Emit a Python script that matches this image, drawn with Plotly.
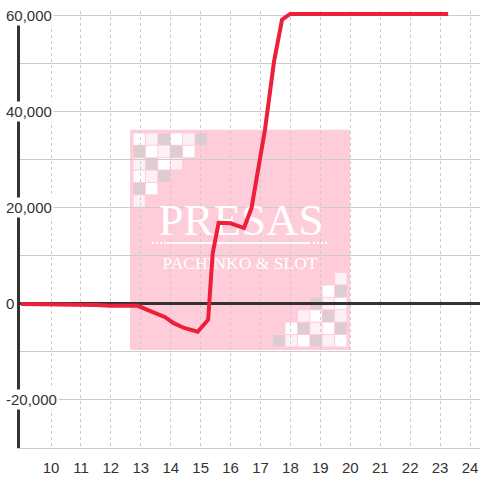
import plotly.graph_objects as go

# hour of day vs. cumulative balance
hours = [9, 11, 11.5, 12, 12.9, 13.4, 13.8, 14.1, 14.45, 14.9, 15.25, 15.4, 15.6,
         16.0, 16.45, 16.7, 17.0, 17.15, 17.45, 17.72, 17.99, 23.27]
balance = [0, 0, -200, -400, -400, -1700, -2700, -4000, -5000, -5800, -3300, 10400, 16900,
           16800, 15800, 20000, 31500, 36300, 50400, 59200, 60400, 60400]

x_ticks = list(range(10, 25))
y_ticks = [60000, 40000, 20000, 0, -20000]
y_tick_text = ["60,000", "40,000", "20,000", "0", "-20,000"]

X_RANGE = [8.964, 24.334]
Y_RANGE = [-30000, 61000]
L, T, W, H = 20, 11.2, 460, 436.8


def xp(px):
    return (px - L) / W


def yp(py):
    return (T + H - py) / H


def xd(px):
    return X_RANGE[0] + (px - L) / W * (X_RANGE[1] - X_RANGE[0])


def yd(py):
    return Y_RANGE[1] - (py - T) / H * (Y_RANGE[1] - Y_RANGE[0])


fig = go.Figure()

# watermark text (drawn before the line so the line sits on top)
fig.add_trace(go.Scatter(
    x=[xd(241), xd(240)], y=[yd(224), yd(265)], mode="text",
    text=["PRESAS", "PACHINKO &amp; SLOT"],
    textfont=dict(family="Liberation Serif", size=[45, 17.5], color="white"),
    hoverinfo="skip", showlegend=False))

fig.add_trace(go.Scatter(
    x=hours, y=balance, mode="lines",
    line=dict(color="#EE1F3A", width=4),
    cliponaxis=False, showlegend=False))

shapes = [dict(type="rect", xref="paper", yref="paper", layer="below",
               x0=xp(130), x1=xp(350), y0=yp(350), y1=yp(130),
               fillcolor="#FFCCDA", line=dict(width=0))]

pattern = ["WLGWLG", "GWLGW", "LGWL", "WLG", "GW", "L"]
cols = {"W": "#FFFFFF", "L": "#FDF0F8", "G": "#DDCCD0"}
s = 12.4
for r, row in enumerate(pattern):
    for c, ch in enumerate(row):
        for (x0, y0) in [(133 + s * c, 133 + s * r), (347 - s * (c + 1), 347 - s * (r + 1))]:
            shapes.append(dict(type="rect", xref="paper", yref="paper", layer="below",
                               x0=xp(x0 + 0.5), x1=xp(x0 + s - 0.5),
                               y0=yp(y0 + s - 0.5), y1=yp(y0 + 0.5),
                               fillcolor=cols[ch], line=dict(width=0)))

# decorative rule under the logo
shapes.append(dict(type="line", xref="paper", yref="paper", layer="below",
                   x0=xp(167), x1=xp(310), y0=yp(243), y1=yp(243),
                   line=dict(color="white", width=2)))
for dx in [152, 156, 160, 164, 313, 317, 321, 325]:
    shapes.append(dict(type="circle", xref="paper", yref="paper", layer="below",
                       x0=xp(dx), x1=xp(dx + 2.4), y0=yp(244.2), y1=yp(241.8),
                       fillcolor="white", line=dict(width=0)))

# hide the dashed gridlines above the top gridline (kept under the line trace)
shapes.append(dict(type="rect", xref="paper", yref="paper", layer="between",
                   x0=xp(22), x1=1, y0=yp(15.0), y1=1,
                   fillcolor="white", line=dict(width=0)))

annotations = [dict(x=xp(4), y=v, xref="paper", yref="y", text=t, showarrow=False,
                    xanchor="left", yanchor="middle", bgcolor="white",
                    font=dict(family="Liberation Sans", size=15, color="#333"))
               for v, t in zip(y_ticks, y_tick_text)]

fig.update_layout(
    width=480, height=480,
    margin=dict(l=L, r=0, t=T, b=32),
    paper_bgcolor="white", plot_bgcolor="white",
    shapes=shapes, annotations=annotations,
    font=dict(family="Liberation Sans", size=15, color="#333"),
    xaxis=dict(range=X_RANGE, tickvals=x_ticks, showgrid=True, gridcolor="#cccccc",
               griddash="3px,3px", gridwidth=1, showline=True, linecolor="#cccccc",
               linewidth=1, ticks="", ticklabelstandoff=6, zeroline=False,
               fixedrange=True),
    yaxis=dict(range=Y_RANGE, dtick=10000, showgrid=True, gridcolor="#cccccc",
               gridwidth=1, showticklabels=False, showline=True, linecolor="#333333",
               linewidth=3, zeroline=True, zerolinecolor="#333333", zerolinewidth=3,
               ticks="", fixedrange=True),
)

fig.write_html("out.html", config={"displayModeBar": False},
               post_script="document.body.style.margin='0';")
